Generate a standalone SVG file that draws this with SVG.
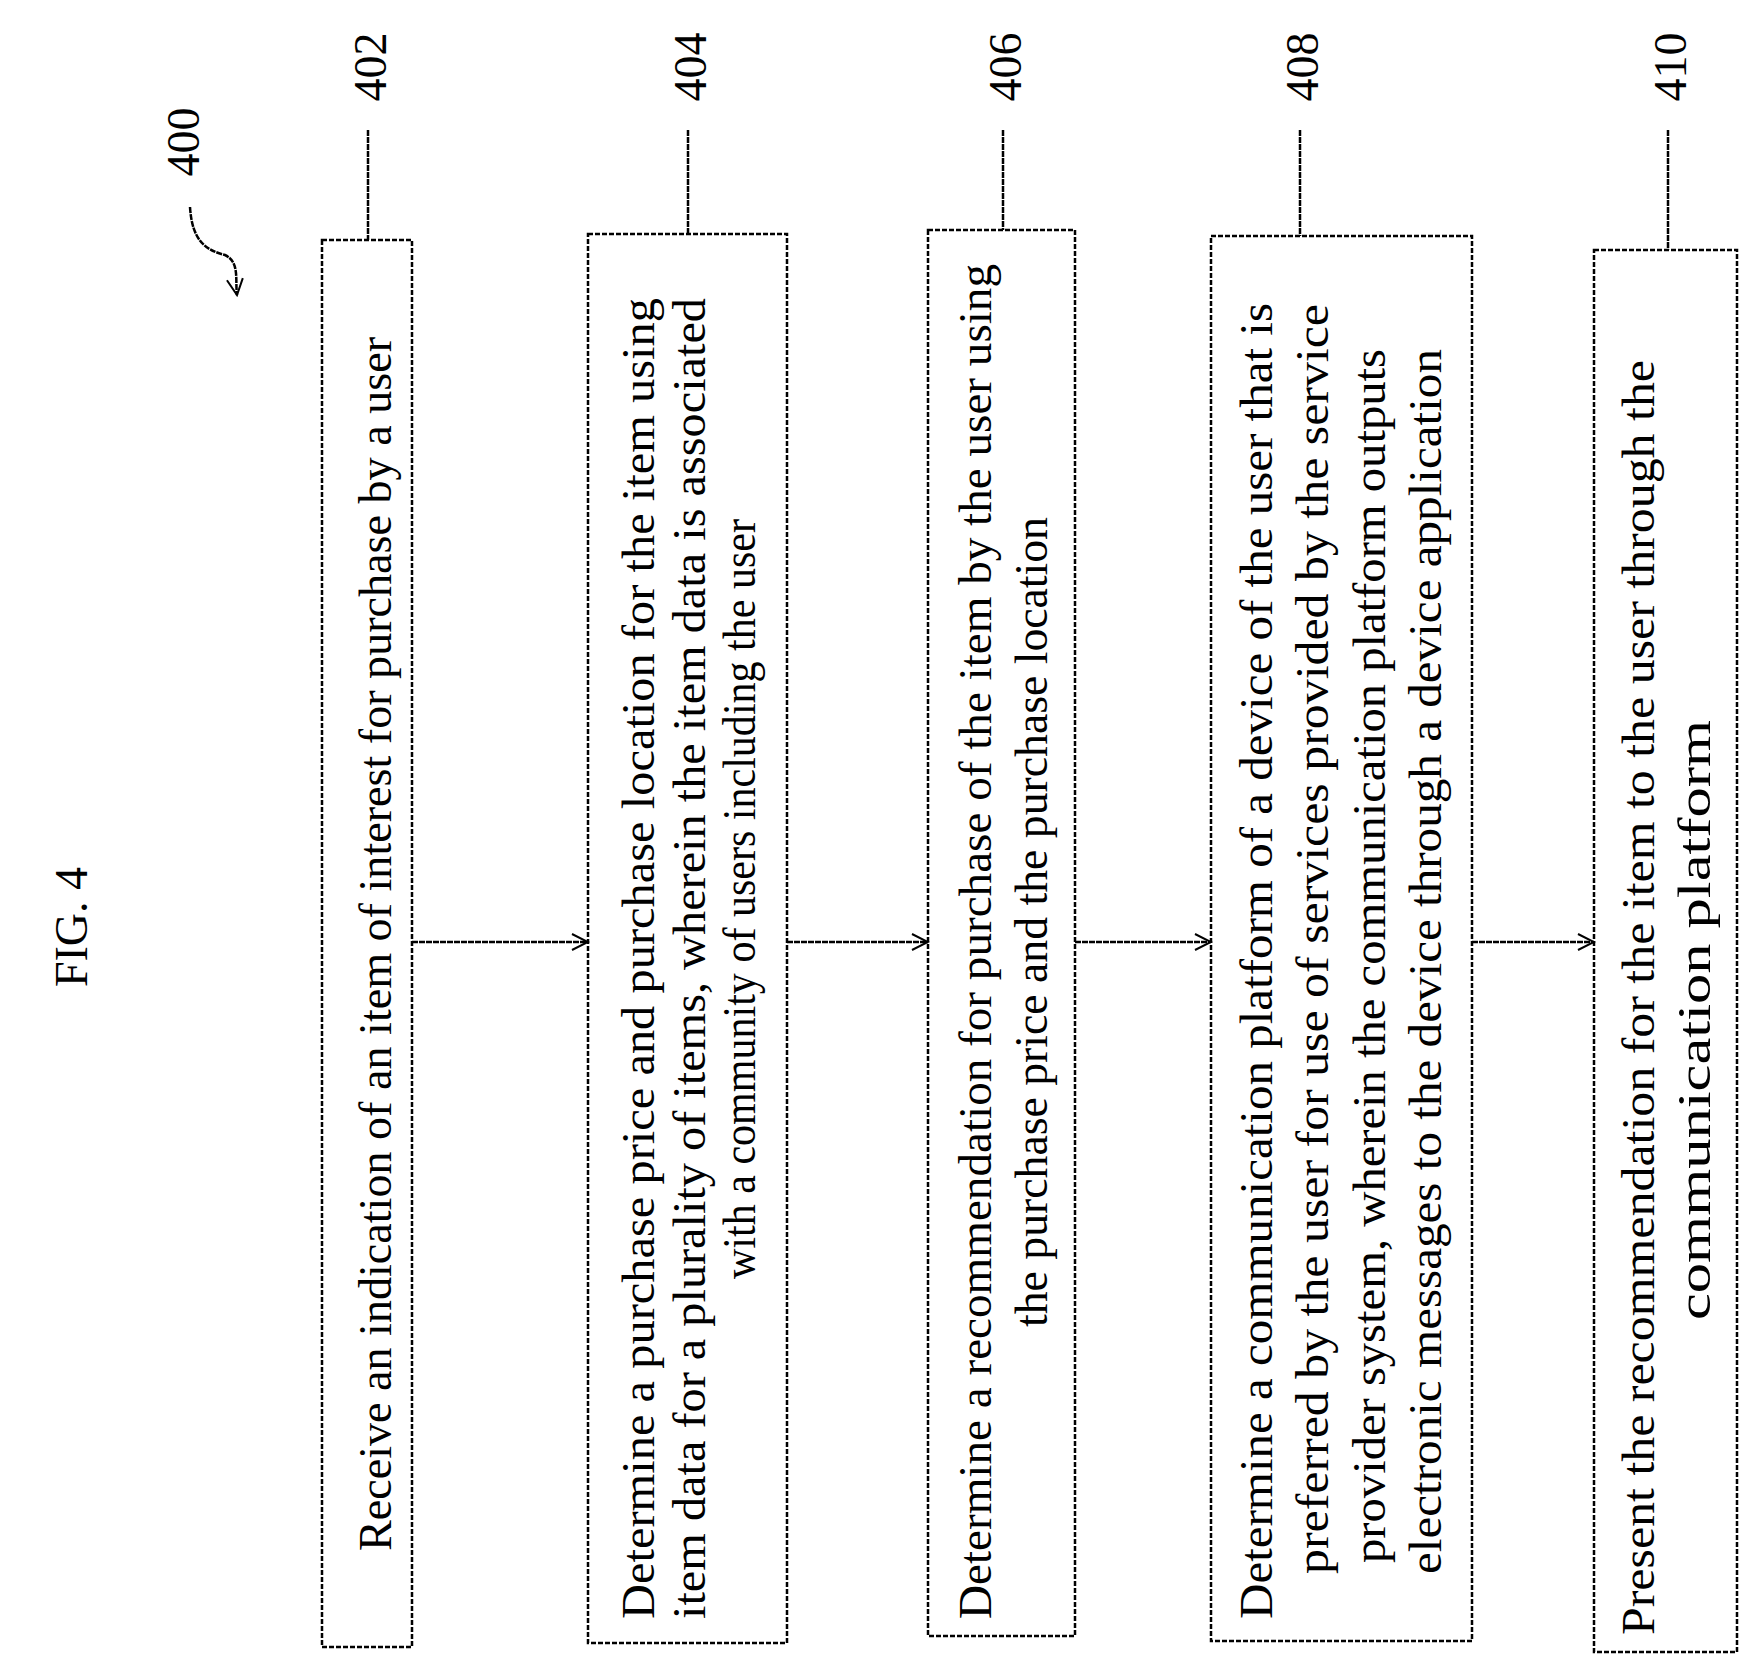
<svg xmlns="http://www.w3.org/2000/svg" width="1754" height="1669" viewBox="0 0 1754 1669">
<style>
.box{fill:#fff;stroke:#000;stroke-width:2.5;stroke-dasharray:5 2}
.t{font-family:"Liberation Serif",serif;font-size:46px;fill:#000}
.c{text-anchor:middle}
.lbl{font-family:"Liberation Serif",serif;font-size:46px;fill:#000}
.ln{stroke:#000;stroke-width:2.5;fill:none;stroke-dasharray:6 1}
</style>
<defs><marker id="a" markerWidth="20" markerHeight="20" refX="18" refY="10" orient="auto" markerUnits="userSpaceOnUse"><path d="M2,2 L18,10 L2,18" fill="none" stroke="#000" stroke-width="2"/></marker></defs>
<rect width="1754" height="1669" fill="#fff"/>
<text class="lbl" transform="translate(87,927) rotate(-90)" text-anchor="middle">FIG. 4</text>
<g id="ref400">
<text class="lbl" transform="translate(199,142) rotate(-90)" text-anchor="middle">400</text>
<path class="ln" d="M190,207 C192,240 205,250 225,255 C240,262 235,280 237,295" marker-end="url(#a)"/>
</g>
<g id="n402">
<rect class="box" x="322" y="240" width="90" height="1407"/>
<line class="ln" x1="368" y1="130" x2="368" y2="240"/>
<text class="lbl" transform="translate(386,67) rotate(-90)" text-anchor="middle">402</text>
<text class="t" transform="translate(391,1551) rotate(-90)" textLength="1214" lengthAdjust="spacingAndGlyphs">Receive an indication of an item of interest for purchase by a user</text>
</g>
<g id="n404">
<rect class="box" x="588" y="234" width="199" height="1409"/>
<line class="ln" x1="688" y1="130" x2="688" y2="234"/>
<text class="lbl" transform="translate(706,67) rotate(-90)" text-anchor="middle">404</text>
<text class="t" transform="translate(654,1619) rotate(-90)" textLength="1321" lengthAdjust="spacingAndGlyphs">Determine a purchase price and purchase location for the item using</text>
<text class="t" transform="translate(705,1619) rotate(-90)" textLength="1321" lengthAdjust="spacingAndGlyphs">item data for a plurality of items, wherein the item data is associated</text>
<text class="t c" transform="translate(755,899) rotate(-90)" textLength="760" lengthAdjust="spacingAndGlyphs">with a community of users including the user</text>
</g>
<g id="n406">
<rect class="box" x="928" y="230" width="147" height="1406"/>
<line class="ln" x1="1003" y1="130" x2="1003" y2="230"/>
<text class="lbl" transform="translate(1021,67) rotate(-90)" text-anchor="middle">406</text>
<text class="t" transform="translate(991,1619) rotate(-90)" textLength="1355" lengthAdjust="spacingAndGlyphs">Determine a recommendation for purchase of the item by the user using</text>
<text class="t c" transform="translate(1047,922) rotate(-90)" textLength="810" lengthAdjust="spacingAndGlyphs">the purchase price and the purchase location</text>
</g>
<g id="n408">
<rect class="box" x="1211" y="236" width="261" height="1405"/>
<line class="ln" x1="1300" y1="130" x2="1300" y2="236"/>
<text class="lbl" transform="translate(1318,67) rotate(-90)" text-anchor="middle">408</text>
<text class="t" transform="translate(1272,1619) rotate(-90)" textLength="1316" lengthAdjust="spacingAndGlyphs">Determine a communication platform of a device of the user that is</text>
<text class="t" transform="translate(1328,1574) rotate(-90)" textLength="1270" lengthAdjust="spacingAndGlyphs">preferred by the user for use of services provided by the service</text>
<text class="t" transform="translate(1385,1563) rotate(-90)" textLength="1214" lengthAdjust="spacingAndGlyphs">provider system, wherein the communication platform outputs</text>
<text class="t" transform="translate(1441,1574) rotate(-90)" textLength="1225" lengthAdjust="spacingAndGlyphs">electronic messages to the device through a device application</text>
</g>
<g id="n410">
<rect class="box" x="1594" y="250" width="143" height="1402"/>
<line class="ln" x1="1668" y1="130" x2="1668" y2="250"/>
<text class="lbl" transform="translate(1686,67) rotate(-90)" text-anchor="middle">410</text>
<text class="t" transform="translate(1654,1635) rotate(-90)" textLength="1275" lengthAdjust="spacingAndGlyphs">Present the recommendation for the item to the user through the</text>
<text class="t c" transform="translate(1710,1020) rotate(-90)" textLength="600" lengthAdjust="spacingAndGlyphs">communication platform</text>
</g>
<g id="connectors">
<line class="ln" x1="412" y1="942" x2="588" y2="942" marker-end="url(#a)"/>
<line class="ln" x1="787" y1="942" x2="928" y2="942" marker-end="url(#a)"/>
<line class="ln" x1="1075" y1="942" x2="1211" y2="942" marker-end="url(#a)"/>
<line class="ln" x1="1472" y1="942" x2="1594" y2="942" marker-end="url(#a)"/>
</g>
</svg>
